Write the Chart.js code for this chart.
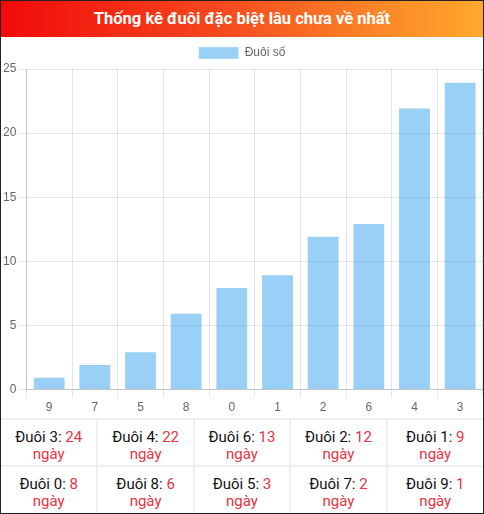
<!DOCTYPE html>
<html>
<head>
<meta charset="utf-8">
<script src="https://cdn.jsdelivr.net/npm/chart.js@4/dist/chart.umd.min.js"></script>
<style>
  html, body { margin: 0; padding: 0; background: #fff; }
  #wrap { width: 484px; height: 514px; box-sizing: border-box; border: 1px solid #222; overflow: hidden; font-family: Roboto, sans-serif; }
  #head { height: 36px; line-height: 36px; text-align: center; color: #fff; font-weight: bold; font-size: 16.5px;
          background: linear-gradient(90deg, #f20a0a 0%, #f5481e 45%, #fb8a28 80%, #ffa82d 100%); }
  #chartBox { position: relative; width: 482px; height: 381px; }
  table { width: 482px; border-collapse: collapse; table-layout: fixed; }
  td { border: 2px solid #efefef; text-align: center; font-size: 15px; line-height: 17px; height: 34px; padding: 9px 0 2px 0; color: #111; vertical-align: top; }
  td .v { color: #e8333f; }
  tr:last-child td { border-bottom: none; }
  td:first-child { border-left: none; }
  td:last-child { border-right: none; }
</style>
</head>
<body>
<div id="wrap">
  <div id="head">Thống kê đuôi đặc biệt lâu chưa về nhất</div>
  <div id="chartBox"><canvas id="c"></canvas></div>
  <table id="tbl"></table>
</div>
<script>
const categories = ['9', '7', '5', '8', '0', '1', '2', '6', '4', '3'];
const values = [1, 2, 3, 6, 8, 9, 12, 13, 22, 24];
const seriesLabel = 'Đuôi số';
const yTicks = [0, 5, 10, 15, 20, 25];

// table (sorted descending, built from same arrays)
const pairs = categories.map((c, i) => [c, values[i]]).reverse();
const tbl = document.getElementById('tbl');
for (let r = 0; r < 2; r++) {
  const tr = document.createElement('tr');
  for (let k = 0; k < 5; k++) {
    const [c, v] = pairs[r * 5 + k];
    const td = document.createElement('td');
    td.innerHTML = 'Đuôi ' + c + ': <span class="v">' + v + '</span><br><span class="v">ngày</span>';
    tr.appendChild(td);
  }
  tbl.appendChild(tr);
}

const fontFam = "Arial, 'Liberation Sans', Helvetica, sans-serif";
new Chart(document.getElementById('c'), {
  type: 'bar',
  data: {
    labels: categories,
    datasets: [{
      label: seriesLabel,
      data: values,
      backgroundColor: 'rgba(54,162,235,0.5)',
      borderColor: 'rgba(255,255,255,0.35)',
      borderWidth: 1
    }]
  },
  options: {
    responsive: true,
    maintainAspectRatio: false,
    animation: false,
    layout: { padding: { left: 0, right: 0, top: 0, bottom: 0 } },
    plugins: {
      legend: {
        display: true,
        position: 'top',
        labels: { boxWidth: 40, boxHeight: 12, color: '#666', font: { family: fontFam, size: 12 } }
      },
      tooltip: { enabled: false }
    },
    scales: {
      x: {
        grid: { color: 'rgba(0,0,0,0.1)', offset: true, tickLength: 8 },
        border: { color: 'rgba(0,0,0,0.15)' },
        ticks: { color: '#666', font: { family: fontFam, size: 12 }, padding: 3 }
      },
      y: {
        min: yTicks[0],
        max: yTicks[yTicks.length - 1],
        afterBuildTicks: (axis) => { axis.ticks = yTicks.map(v => ({ value: v })); },
        grid: { color: 'rgba(0,0,0,0.1)', tickLength: 8 },
        border: { color: 'rgba(0,0,0,0.15)' },
        ticks: { color: '#666', font: { family: fontFam, size: 12 }, padding: 2 }
      }
    }
  }
});
</script>
</body>
</html>
